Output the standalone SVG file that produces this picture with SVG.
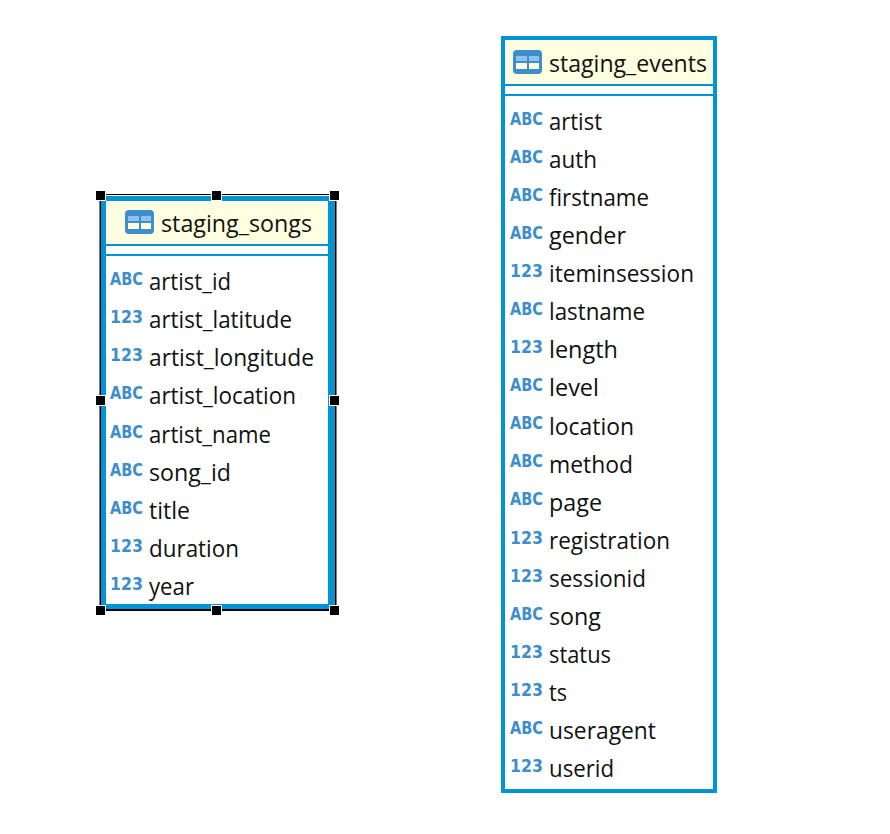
<svg xmlns="http://www.w3.org/2000/svg" width="890" height="834" viewBox="0 0 890 834">
<style>
.box{fill:#fff;stroke:#0093d6;stroke-width:4}
.head{fill:#fefee0}
.rule{fill:#0093d6}
.sel{fill:#000}
.h{fill:#000;stroke:#fff;stroke-width:1}
text{font-family:"Open Sans","Noto Sans","Liberation Sans",sans-serif}
.t{font-size:23px;fill:#111}
.i{font-size:17px;font-weight:700;fill:#3d8ecb;font-family:"DejaVu Sans","Liberation Sans",sans-serif}
.ic{fill:#3d8ecb}
.il{fill:#8fc2e8}
.iw{fill:#fefee0}
</style>
<defs>
<g id="tbl">
<rect x="0" y="0" width="29" height="24" rx="4" class="ic"/>
<rect x="3" y="6" width="11" height="5" class="il"/>
<rect x="16" y="6" width="10" height="5" class="il"/>
<rect x="3" y="13" width="11" height="6" class="iw"/>
<rect x="16" y="13" width="10" height="6" class="iw"/>
</g>
</defs>
<g id="connectors"/>
<g id="staging_songs">
<rect x="99.500" y="194" width="1.500" height="417" class="sel"/>
<rect x="334.500" y="194" width="2" height="417" class="sel"/>
<rect x="99.500" y="194" width="237" height="1" class="sel"/>
<rect x="99.500" y="609" width="237" height="2" class="sel"/>
<rect x="101" y="196" width="233.500" height="413" fill="#0093d6"/>
<rect x="106" y="201" width="222" height="403" fill="#fff"/>
<rect x="106" y="201" width="222" height="43" class="head"/>
<rect x="106" y="244" width="222" height="2" class="rule"/>
<rect x="106" y="254" width="222" height="2" class="rule"/>
<use href="#tbl" x="125" y="210"/>
<text x="161" y="232" class="t" textLength="151" lengthAdjust="spacingAndGlyphs">staging_songs</text>
<text x="110" y="285" class="i" textLength="33" lengthAdjust="spacingAndGlyphs">ABC</text><text x="149" y="290" class="t" textLength="82" lengthAdjust="spacingAndGlyphs">artist_id</text>
<text x="110" y="323" class="i" textLength="33" lengthAdjust="spacingAndGlyphs">123</text><text x="149" y="328" class="t" textLength="143" lengthAdjust="spacingAndGlyphs">artist_latitude</text>
<text x="110" y="361" class="i" textLength="33" lengthAdjust="spacingAndGlyphs">123</text><text x="149" y="366" class="t" textLength="165" lengthAdjust="spacingAndGlyphs">artist_longitude</text>
<text x="110" y="399" class="i" textLength="33" lengthAdjust="spacingAndGlyphs">ABC</text><text x="149" y="404" class="t" textLength="147" lengthAdjust="spacingAndGlyphs">artist_location</text>
<text x="110" y="438" class="i" textLength="33" lengthAdjust="spacingAndGlyphs">ABC</text><text x="149" y="443" class="t" textLength="122" lengthAdjust="spacingAndGlyphs">artist_name</text>
<text x="110" y="476" class="i" textLength="33" lengthAdjust="spacingAndGlyphs">ABC</text><text x="149" y="481" class="t" textLength="82" lengthAdjust="spacingAndGlyphs">song_id</text>
<text x="110" y="514" class="i" textLength="33" lengthAdjust="spacingAndGlyphs">ABC</text><text x="149" y="519" class="t" textLength="41" lengthAdjust="spacingAndGlyphs">title</text>
<text x="110" y="552" class="i" textLength="33" lengthAdjust="spacingAndGlyphs">123</text><text x="149" y="557" class="t" textLength="90" lengthAdjust="spacingAndGlyphs">duration</text>
<text x="110" y="590" class="i" textLength="33" lengthAdjust="spacingAndGlyphs">123</text><text x="149" y="595" class="t" textLength="45" lengthAdjust="spacingAndGlyphs">year</text>
<rect x="95.500" y="190.500" width="10" height="10" class="h"/><rect x="211.500" y="190.500" width="10" height="10" class="h"/><rect x="329.500" y="190.500" width="10" height="10" class="h"/>
<rect x="95.500" y="395.500" width="10" height="10" class="h"/><rect x="329.500" y="395.500" width="10" height="10" class="h"/>
<rect x="95.500" y="605.500" width="10" height="10" class="h"/><rect x="211.500" y="605.500" width="10" height="10" class="h"/><rect x="329.500" y="605.500" width="10" height="10" class="h"/>
</g>
<g id="staging_events">
<rect x="503" y="38" width="212" height="753" class="box"/>
<rect x="505" y="40" width="208" height="44" class="head"/>
<rect x="505" y="84" width="208" height="2" class="rule"/>
<rect x="505" y="94" width="208" height="2" class="rule"/>
<use href="#tbl" x="513" y="50"/>
<text x="549" y="72" class="t" textLength="158" lengthAdjust="spacingAndGlyphs">staging_events</text>
<text x="510" y="125" class="i" textLength="33" lengthAdjust="spacingAndGlyphs">ABC</text><text x="549" y="130" class="t" textLength="53" lengthAdjust="spacingAndGlyphs">artist</text>
<text x="510" y="163" class="i" textLength="33" lengthAdjust="spacingAndGlyphs">ABC</text><text x="549" y="168" class="t" textLength="48" lengthAdjust="spacingAndGlyphs">auth</text>
<text x="510" y="201" class="i" textLength="33" lengthAdjust="spacingAndGlyphs">ABC</text><text x="549" y="206" class="t" textLength="100" lengthAdjust="spacingAndGlyphs">firstname</text>
<text x="510" y="239" class="i" textLength="33" lengthAdjust="spacingAndGlyphs">ABC</text><text x="549" y="244" class="t" textLength="77" lengthAdjust="spacingAndGlyphs">gender</text>
<text x="510" y="277" class="i" textLength="33" lengthAdjust="spacingAndGlyphs">123</text><text x="549" y="282" class="t" textLength="145" lengthAdjust="spacingAndGlyphs">iteminsession</text>
<text x="510" y="315" class="i" textLength="33" lengthAdjust="spacingAndGlyphs">ABC</text><text x="549" y="320" class="t" textLength="96" lengthAdjust="spacingAndGlyphs">lastname</text>
<text x="510" y="353" class="i" textLength="33" lengthAdjust="spacingAndGlyphs">123</text><text x="549" y="358" class="t" textLength="69" lengthAdjust="spacingAndGlyphs">length</text>
<text x="510" y="391" class="i" textLength="33" lengthAdjust="spacingAndGlyphs">ABC</text><text x="549" y="396" class="t" textLength="50" lengthAdjust="spacingAndGlyphs">level</text>
<text x="510" y="429" class="i" textLength="33" lengthAdjust="spacingAndGlyphs">ABC</text><text x="549" y="435" class="t" textLength="85" lengthAdjust="spacingAndGlyphs">location</text>
<text x="510" y="467" class="i" textLength="33" lengthAdjust="spacingAndGlyphs">ABC</text><text x="549" y="473" class="t" textLength="84" lengthAdjust="spacingAndGlyphs">method</text>
<text x="510" y="505" class="i" textLength="33" lengthAdjust="spacingAndGlyphs">ABC</text><text x="549" y="511" class="t" textLength="53" lengthAdjust="spacingAndGlyphs">page</text>
<text x="510" y="544" class="i" textLength="33" lengthAdjust="spacingAndGlyphs">123</text><text x="549" y="549" class="t" textLength="121" lengthAdjust="spacingAndGlyphs">registration</text>
<text x="510" y="582" class="i" textLength="33" lengthAdjust="spacingAndGlyphs">123</text><text x="549" y="587" class="t" textLength="97" lengthAdjust="spacingAndGlyphs">sessionid</text>
<text x="510" y="620" class="i" textLength="33" lengthAdjust="spacingAndGlyphs">ABC</text><text x="549" y="625" class="t" textLength="52" lengthAdjust="spacingAndGlyphs">song</text>
<text x="510" y="658" class="i" textLength="33" lengthAdjust="spacingAndGlyphs">123</text><text x="549" y="663" class="t" textLength="62" lengthAdjust="spacingAndGlyphs">status</text>
<text x="510" y="696" class="i" textLength="33" lengthAdjust="spacingAndGlyphs">123</text><text x="549" y="701" class="t" textLength="18" lengthAdjust="spacingAndGlyphs">ts</text>
<text x="510" y="734" class="i" textLength="33" lengthAdjust="spacingAndGlyphs">ABC</text><text x="549" y="739" class="t" textLength="107" lengthAdjust="spacingAndGlyphs">useragent</text>
<text x="510" y="772" class="i" textLength="33" lengthAdjust="spacingAndGlyphs">123</text><text x="549" y="777" class="t" textLength="65" lengthAdjust="spacingAndGlyphs">userid</text>
</g>
</svg>
